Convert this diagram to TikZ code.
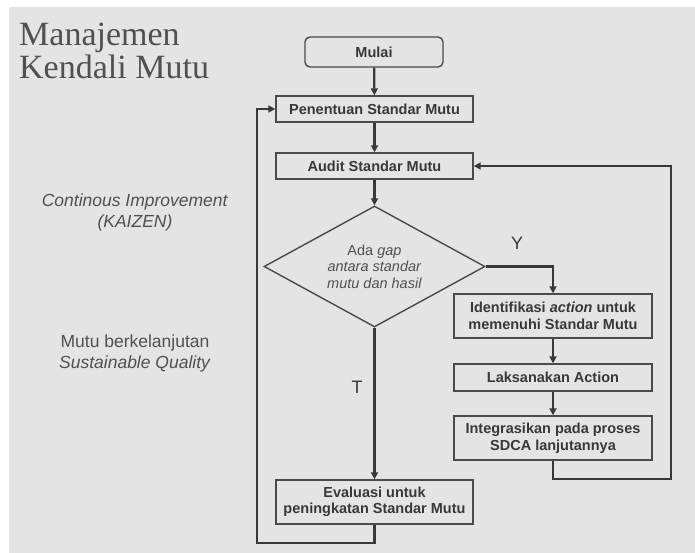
\documentclass[tikz,border=0pt]{standalone}
\usepackage{fontspec}
\setmainfont{Liberation Sans}
\newfontfamily\judulfont{Liberation Serif}
\usetikzlibrary{shapes.geometric, arrows.meta}
\definecolor{latar}{HTML}{E4E4E4}
\definecolor{tinta}{HTML}{383838}
\definecolor{garis}{HTML}{4A4A4A}
\definecolor{abu}{HTML}{505050}

\begin{document}
\begin{tikzpicture}[x=1pt, y=-1pt,
        kotak/.style={draw=garis, line width=1.4pt, minimum width=197pt, inner sep=0pt, align=center, text=tinta, font=\bfseries\fontsize{14.5}{16.5}\selectfont},
        alur/.style={draw=tinta, line width=2.2pt, -{Triangle[length=7pt, width=7pt]}},
        teks/.style={text=abu, align=center, font=\fontsize{17.5}{21}\selectfont}]
        % latar belakang
        \fill[white] (0,0) rectangle (695,553);
        \fill[latar] (9,7) rectangle (695,553);
        \useasboundingbox (0,0) rectangle (695,553);

        \node[anchor=north west, inner sep=0pt, align=left, text=abu, font=\judulfont\fontsize{34}{33}\selectfont] (judul) at (19,23) {Manajemen\\Kendali Mutu};
        \node[teks] (kaizen) at (135,212) {\textit{Continous Improvement}\\\textit{(KAIZEN)}};
        \node[teks] (lanjut) at (135,353) {Mutu berkelanjutan\\\textit{Sustainable Quality}};

        \node[kotak, rounded corners=5pt, minimum width=138pt, minimum height=30pt] (mulai) at (374,52) {Mulai};
        \node[kotak, minimum height=26pt] (tentu) at (374.5,109) {Penentuan Standar Mutu};
        \node[kotak, minimum height=26pt] (audit) at (374.5,166) {Audit Standar Mutu};
        \node[diamond, aspect=1.81, draw=garis, line width=1.4pt, inner sep=0pt, minimum width=221pt, minimum height=121pt, align=center, text=abu, font=\fontsize{14.5}{16.5}\selectfont] (gap) at (374.5,266.5) {Ada \textit{gap}\\\textit{antara standar}\\\textit{mutu dan hasil}};
        \node[kotak, minimum width=198pt, minimum height=44pt] (ident) at (553,316) {Identifikasi \textit{action} untuk\\memenuhi Standar Mutu};
        \node[kotak, minimum width=198pt, minimum height=27pt] (laks) at (553,377.5) {Laksanakan Action};
        \node[kotak, minimum width=198pt, minimum height=44pt] (integ) at (553,438) {Integrasikan pada proses\\SDCA lanjutannya};
        \node[kotak, minimum height=44pt] (eval) at (374.5,502) {Evaluasi untuk\\peningkatan Standar Mutu};

        \node[text=tinta, font=\fontsize{18}{18}\selectfont] (ya) at (517,243) {Y};
        \node[text=tinta, font=\fontsize{18}{18}\selectfont] (tidak) at (357,387) {T};

        \coordinate (kanan) at (671,479);
        \coordinate (kiri) at (257,543);

        \foreach \a/\b in {mulai/tentu, tentu/audit, audit/gap, ident/laks, laks/integ} {
            \draw[alur] (\a) -- (\b);
        }
        \draw[alur] (gap.east) -| (ident.north);
        \draw[alur] (gap.south) -- (eval.north);
        \draw[alur] (integ.south) |- (kanan) |- (audit.east);
        \draw[alur] (eval.south) |- (kiri) |- (tentu.west);
    \end{tikzpicture}
\end{document}
